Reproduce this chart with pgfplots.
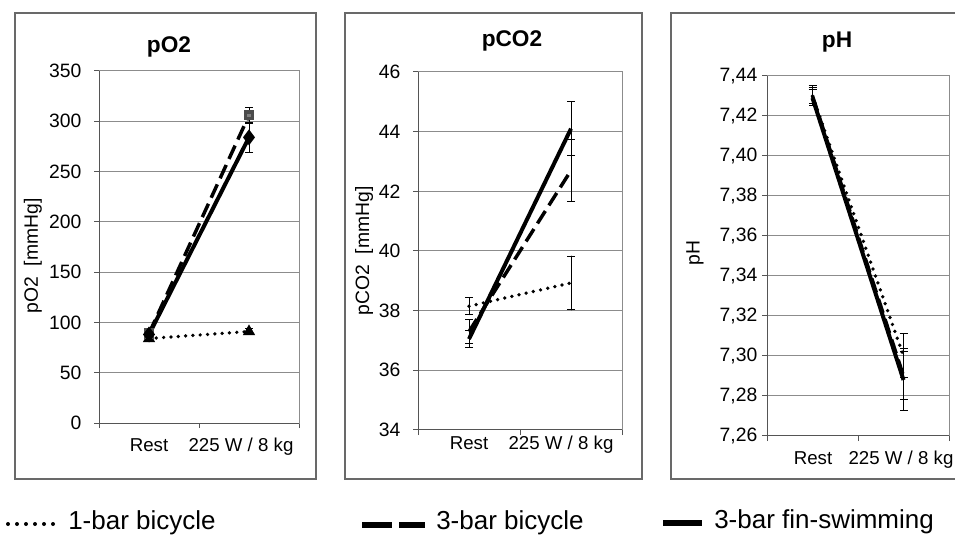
\documentclass[border=0pt]{standalone}
\usepackage{fontspec}
\setmainfont{Liberation Sans}
\usepackage{pgfplots}
\pgfplotsset{compat=1.18}
\definecolor{gridc}{RGB}{140,140,140}
\definecolor{axc}{RGB}{85,85,85}
\definecolor{framec}{RGB}{105,105,105}
\pgfplotsset{
  panel/.style={
    scale only axis, anchor=south west,
    xmin=0, xmax=2, xtick={0,1,2}, xticklabels={},
    tick pos=left, tick align=outside, major tick length=3.75pt,
    tick style={axc, line width=0.75pt},
    ymajorgrids, grid style={gridc, line width=0.75pt},
    axis line style={gridc, line width=0.75pt},
    yticklabel style={font=\fontsize{14.5}{16}\selectfont},
    /pgf/number format/assume math mode=true,
    clip=false,
    every axis plot/.append style={black,
      error bars/y dir=both, error bars/y explicit,
      error bars/error bar style={line width=0.75pt, solid, black},
      error bars/error mark options={rotate=90, mark size=3pt, line width=0.75pt, solid, black}},
  },
  dotl/.style={line width=2.8pt, dash pattern=on 0pt off 5.5pt, line cap=round},
  dashl/.style={line width=2.6pt, dash pattern=on 11pt off 5pt},
  solidl/.style={line width=3pt},
}
\begin{document}
\begin{tikzpicture}
\path[use as bounding box] (0,0) rectangle (716.25pt,401.25pt);
% ---------- pO2
\begin{axis}[panel, at={(74.25pt,84pt)}, width=150pt, height=264pt,
  ymin=0, ymax=350, ytick={0,50,100,150,200,250,300,350},
  yticklabel style={xshift=-6pt}]
\addplot[dotl, mark=triangle*, mark size=2.5pt, mark options={solid}]
  coordinates {(0.5,84) +- (0,3) (1.5,91) +- (0,3)};
\addplot[dashl, mark=square*, mark size=2.5pt, mark options={solid, fill=gray, draw=gray!60!black}]
  coordinates {(0.5,89) +- (0,3) (1.5,306) +- (0,8)};
\addplot[solidl, mark=diamond*, mark size=3.5pt]
  coordinates {(0.5,88) +- (0,3) (1.5,284) +- (0,15)};
\draw[axc, line width=0.75pt] (rel axis cs:0,1) -- (rel axis cs:0,0) -- (rel axis cs:1,0);
\end{axis}
% ---------- pCO2
\begin{axis}[panel, at={(313.5pt,78.75pt)}, width=153pt, height=268.5pt,
  ymin=34, ymax=46, ytick={34,36,38,40,42,44,46},
  yticklabel style={xshift=-6pt}]
\addplot[dotl] coordinates {(0.5,38.15) +- (0,0.28) (1.5,38.93) +- (0,0.9)};
\addplot[dashl] coordinates {(0.5,37.3) +- (0,0.4) (1.5,42.7) +- (0,1.05)};
\addplot[solidl] coordinates {(0.5,37.05) +- (0,0.3) (1.5,44.1) +- (0,0.9)};
\draw[axc, line width=0.75pt] (rel axis cs:0,1) -- (rel axis cs:0,0) -- (rel axis cs:1,0);
\end{axis}
% ---------- pH
\begin{axis}[panel, at={(575.25pt,74.25pt)}, width=136.5pt, height=270pt,
  ymin=7.26, ymax=7.44, ytick={7.26,7.28,7.30,7.32,7.34,7.36,7.38,7.40,7.42,7.44},
  yticklabel style={/pgf/number format/.cd, fixed, fixed zerofill, precision=2, use comma}]
\addplot[dotl] coordinates {(0.5,7.430) +- (0,0.004) (1.5,7.300) +- (0,0.011)};
\addplot[dashl] coordinates {(0.5,7.430) +- (0,0.005) (1.5,7.290) +- (0,0.012)};
\addplot[solidl] coordinates {(0.5,7.429) +- (0,0.004) (1.5,7.288) +- (0,0.0155)};
\draw[axc, line width=0.75pt] (rel axis cs:0,1) -- (rel axis cs:0,0) -- (rel axis cs:1,0);
\end{axis}
% ---------- frames, titles, labels, legend
\begin{scope}[x=0.75pt,y=0.75pt]
\draw[framec, line width=1.1pt] (15,56) rectangle (316,522);
\draw[framec, line width=1.1pt] (345,56) rectangle (642,522);
\draw[framec, line width=1.1pt] (956,522) -- (671,522) -- (671,56) -- (956,56);
\node[anchor=base, font=\fontsize{17}{19}\selectfont\bfseries] at (169,482) {pO2};
\node[anchor=base, font=\fontsize{17}{19}\selectfont\bfseries] at (512,488) {pCO2};
\node[anchor=base, font=\fontsize{17}{19}\selectfont\bfseries] at (837,487) {pH};
\node[rotate=90, font=\fontsize{14.5}{16}\selectfont] at (33,279) {pO2~~[mmHg]};
\node[rotate=90, font=\fontsize{14.5}{16}\selectfont] at (364,284) {pCO2~~[mmHg]};
\node[rotate=90, font=\fontsize{14.5}{16}\selectfont] at (695,282) {pH};
\begin{scope}[every node/.style={anchor=base, font=\fontsize{14}{16}\selectfont}]
\node at (149,84) {Rest}; \node at (241,84) {225 W / 8 kg};
\node at (469,85) {Rest}; \node at (561,85) {225 W / 8 kg};
\node at (813,70) {Rest}; \node at (901,70) {225 W / 8 kg};
\end{scope}
\draw[line width=3pt, dash pattern=on 0pt off 6.75pt, line cap=round] (8,11) -- (55,11);
\node[anchor=base west, inner sep=0pt, font=\fontsize{19.5}{24}\selectfont] at (68,6) {1-bar bicycle};
\draw[line width=4.5pt] (362,10) -- (392,10);
\draw[line width=4.5pt] (399,10) -- (425,10);
\node[anchor=base west, inner sep=0pt, font=\fontsize{19.5}{24}\selectfont] at (436,5.5) {3-bar bicycle};
\draw[line width=4.5pt] (663,12) -- (702,12);
\node[anchor=base west, inner sep=0pt, font=\fontsize{19.5}{24}\selectfont] at (714,7) {3-bar fin-swimming};
\end{scope}
\end{tikzpicture}
\end{document}
